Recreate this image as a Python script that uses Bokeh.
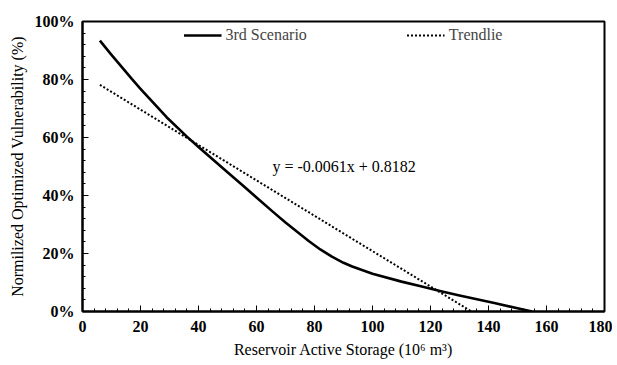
from bokeh.plotting import figure
from bokeh.models import Range1d, NumeralTickFormatter, FixedTicker, Legend, LegendItem, Label
from bokeh.embed import file_html
from bokeh.resources import INLINE

# Data
storage = [6, 10, 17, 20, 29, 36, 40, 50, 55, 60, 66, 70, 78, 82, 86, 90, 93,
           100, 110, 117, 124, 130, 142, 150, 155]
vulnerability = [0.934, 0.885, 0.802, 0.768, 0.670, 0.603, 0.567, 0.480, 0.437, 0.393,
                 0.341, 0.307, 0.243, 0.214, 0.189, 0.168, 0.155,
                 0.130, 0.103, 0.086, 0.069, 0.055, 0.029, 0.011, 0.0]
trend_x = [6, 134.1]
slope = -0.0061
intercept = 0.8182
trend_y = [slope * x + intercept for x in trend_x]
x_ticks = [0, 20, 40, 60, 80, 100, 120, 140, 160, 180]
y_ticks = [0, 0.2, 0.4, 0.6, 0.8, 1.0]

FONT = "Liberation Serif"

p = figure(width=612, height=360, output_backend="svg", toolbar_location=None,
           x_range=Range1d(0, 180), y_range=Range1d(0, 1),
           min_border_left=82, min_border_right=8, min_border_top=21, min_border_bottom=48)

p.xgrid.visible = False
p.ygrid.visible = False
p.outline_line_color = "black"
p.outline_line_width = 2
p.background_fill_color = "white"

r1 = p.line(storage, vulnerability, line_color="black", line_width=2.6, line_join="round")
r2 = p.line(trend_x, trend_y, line_color="black", line_width=2, line_dash="2 2")

for ax in (p.xaxis[0], p.yaxis[0]):
    ax.axis_line_color = "black"
    ax.axis_line_width = 2
    ax.major_tick_in = 6
    ax.major_tick_out = 0
    ax.minor_tick_in = 3
    ax.minor_tick_out = 0
    ax.major_tick_line_color = "black"
    ax.minor_tick_line_color = "black"
    ax.major_label_text_font = FONT
    ax.major_label_text_font_size = "16px"
    ax.major_label_text_font_style = "bold"
    ax.major_label_text_color = "black"
    ax.axis_label_text_font = FONT
    ax.axis_label_text_font_size = "16px"
    ax.axis_label_text_font_style = "normal"
    ax.axis_label_text_color = "black"

p.xaxis.ticker = FixedTicker(ticks=x_ticks, minor_ticks=[i * 4 for i in range(46)])
p.yaxis.ticker = FixedTicker(ticks=y_ticks, minor_ticks=[i * 0.04 for i in range(26)])
p.yaxis.formatter = NumeralTickFormatter(format="0%")
p.xaxis.axis_label = "Reservoir Active Storage (10\u2076 m\u00b3)"
p.yaxis.axis_label = "Normilized Optimized Vulnerability (%)"
p.xaxis.axis_label_standoff = 6
p.yaxis.axis_label_standoff = 6
p.xaxis.major_label_standoff = 9
p.yaxis.major_label_standoff = 8

legend = Legend(items=[LegendItem(label="3rd Scenario", renderers=[r1]),
                       LegendItem(label="Trendlie", renderers=[r2])],
                orientation="horizontal", location="top_center",
                label_text_font=FONT, label_text_font_size="16px",
                glyph_width=38, spacing=100, border_line_color=None,
                background_fill_alpha=0, padding=4, margin=4, label_standoff=4)
p.add_layout(legend, "center")

eq = Label(x=65.5, y=0.5, text="y = -0.0061x + 0.8182", text_font=FONT,
           text_font_size="16px", text_baseline="middle", text_color="black")
p.add_layout(eq)

open("out.html", "w").write(file_html(p, INLINE))
